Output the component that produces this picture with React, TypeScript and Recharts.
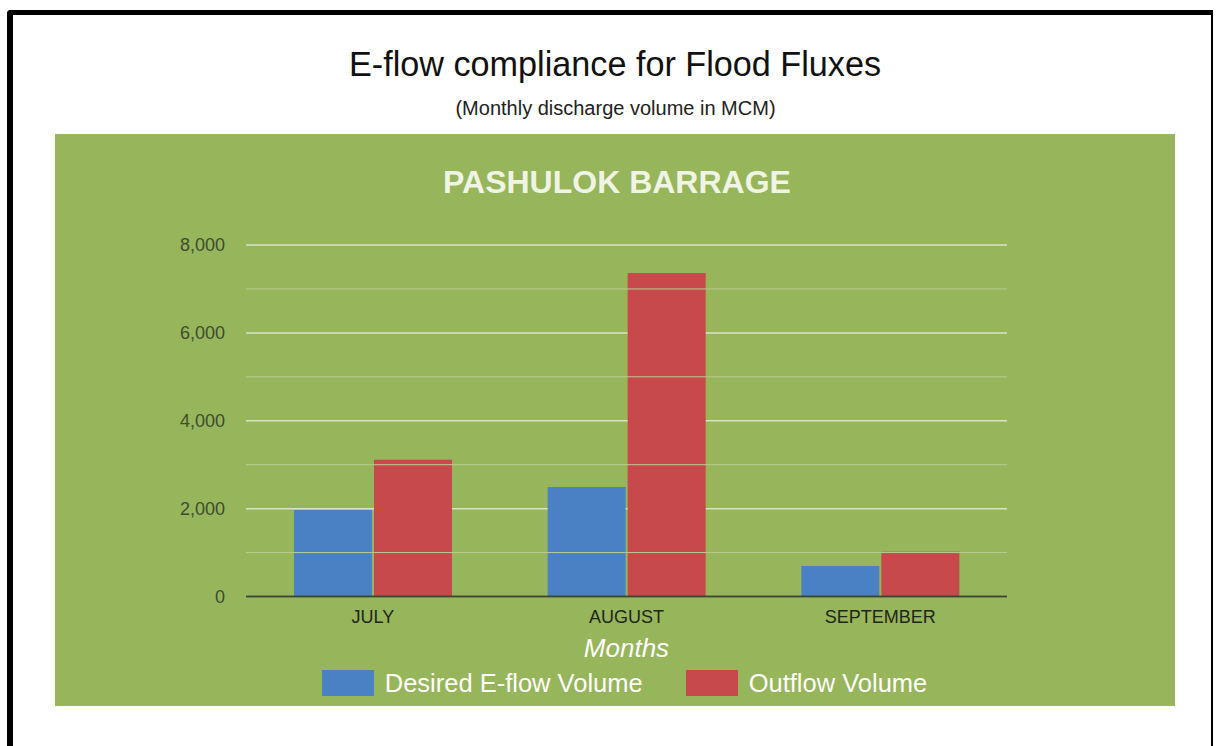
import React from 'react';
import { BarChart, Bar, XAxis, YAxis, CartesianGrid, ReferenceLine, Legend } from 'recharts';

const months = ['JULY', 'AUGUST', 'SEPTEMBER'];
const desiredEflow = [1970, 2490, 695];
const outflowVolume = [3110, 7360, 1020];
const yTicks = [0, 2000, 4000, 6000, 8000];
const minorGrid = [1000, 3000, 5000, 7000];
const seriesNames = ['Desired E-flow Volume', 'Outflow Volume'];

const data = months.map((m, i) => ({ month: m, desired: desiredEflow[i], outflow: outflowVolume[i] }));

const FONT = '"Liberation Sans", Arial, Helvetica, sans-serif';
const GREEN = '#97b55a';
const BLUE = '#4a81c4';
const RED = '#c8494b';

const renderLegend = (props: any) => {
  const { payload } = props;
  return (
    <div style={{ display: 'flex', justifyContent: 'center', alignItems: 'center', height: 26, fontFamily: FONT }}>
      {(payload || []).map((e: any, i: number) => (
        <div key={i} style={{ display: 'flex', alignItems: 'center', marginLeft: i ? 43 : 0 }}>
          <span style={{ display: 'inline-block', width: 52, height: 26, background: e.color }} />
          <span style={{ marginLeft: 11, fontSize: 25.5, color: '#ffffff', lineHeight: '26px', whiteSpace: 'nowrap' }}>{e.value}</span>
        </div>
      ))}
    </div>
  );
};

export default function App() {
  return (
    <div style={{ position: 'fixed', left: 0, top: 0, width: 1216, height: 746, background: '#fff', overflow: 'hidden', fontFamily: FONT }}>
      <div style={{ position: 'absolute', left: 7, top: 10, width: 1206, height: 800, boxSizing: 'border-box', borderTop: '5px solid #000', borderLeft: '6px solid #000', borderRight: '2px solid #000', borderTopLeftRadius: 4 }} />
      <div style={{ position: 'absolute', left: 0, width: 1230, top: 64 - 17, height: 34, lineHeight: '34px', fontSize: 34.2, textAlign: 'center', color: '#111', whiteSpace: 'nowrap' }}>
        E-flow compliance for Flood Fluxes
      </div>
      <div style={{ position: 'absolute', left: 0, width: 1231, top: 108 - 10, height: 20, lineHeight: '20px', fontSize: 20, textAlign: 'center', color: '#222', whiteSpace: 'nowrap' }}>
        (Monthly discharge volume in MCM)
      </div>
      <div style={{ position: 'absolute', left: 55, top: 134, width: 1120, height: 572, background: GREEN }}>
        <div style={{ position: 'absolute', left: 0, width: 1124, top: 48 - 16, height: 32, lineHeight: '32px', fontSize: 32, fontWeight: 'bold', textAlign: 'center', color: '#eff4e4', whiteSpace: 'nowrap' }}>
          PASHULOK BARRAGE
        </div>
        <div style={{ position: 'absolute', left: 0, top: 0 }}>
          <BarChart
            width={1120}
            height={572}
            data={data}
            margin={{ top: 111, right: 168, bottom: 79.5, left: 131 }}
            barCategoryGap={48}
            barGap={2}
          >
            <CartesianGrid vertical={false} horizontal={true} stroke="#d9e4c4" strokeWidth={1.5} />
            {minorGrid.map((v) => (
              <ReferenceLine key={v} y={v} stroke="#b8cc93" strokeWidth={1} ifOverflow="extendDomain" />
            ))}
            <XAxis
              dataKey="month"
              height={30}
              axisLine={{ stroke: '#3b4a2e', strokeWidth: 2 }}
              tickLine={false}
              tickMargin={8}
              tick={{ fill: '#1f2618', fontSize: 18, fontFamily: FONT }}
              label={{ value: 'Months', position: 'bottom', offset: 12, fill: '#ffffff', fontSize: 26, fontStyle: 'italic', fontFamily: FONT }}
            />
            <YAxis
              width={60}
              domain={[0, 8000]}
              ticks={yTicks}
              axisLine={false}
              tickLine={false}
              tickMargin={15}
              tick={{ fill: '#3f4c30', fontSize: 18, fontFamily: FONT }}
              tickFormatter={(v: number) => v.toLocaleString('en-US')}
            />
            <Legend
              verticalAlign="middle"
              align="center"
              content={renderLegend}
              wrapperStyle={{ left: 190, top: 536, width: 759, height: 26 }}
            />
            <Bar dataKey="desired" name={seriesNames[0]} fill={BLUE} isAnimationActive={false} />
            <Bar dataKey="outflow" name={seriesNames[1]} fill={RED} isAnimationActive={false} />
          </BarChart>
        </div>
      </div>
    </div>
  );
}
